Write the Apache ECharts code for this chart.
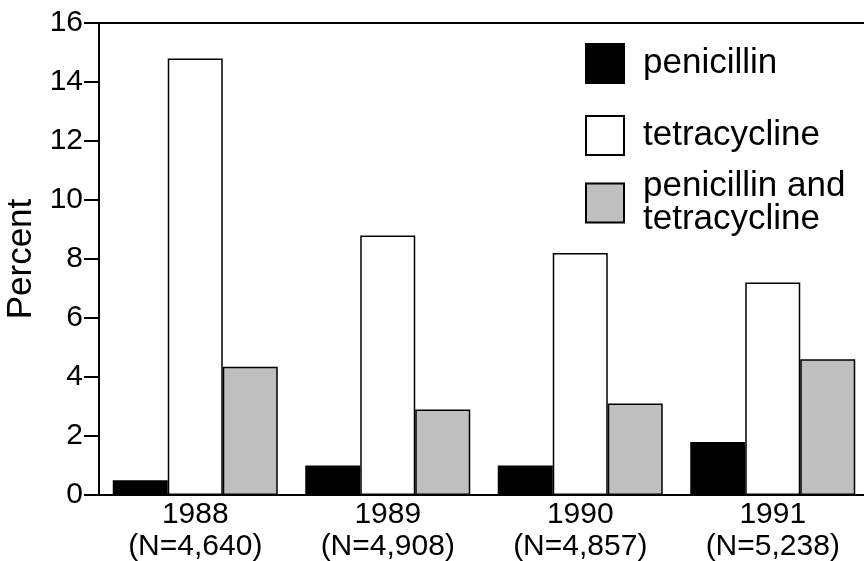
<!DOCTYPE html>
<html>
<head>
<meta charset="utf-8">
<script src="https://cdn.jsdelivr.net/npm/echarts@6/dist/echarts.min.js"></script>
<style>
  html, body { margin: 0; padding: 0; background: #fff; }
  #chart { width: 864px; height: 561px; }
</style>
</head>
<body>
<div id="chart"></div>
<script>
// data
const years = ['1988\n(N=4,640)', '1989\n(N=4,908)', '1990\n(N=4,857)', '1991\n(N=5,238)'];
const penicillin = [0.5, 1.0, 1.0, 1.8];
const tetracycline = [14.8, 8.8, 8.2, 7.2];
const both = [4.35, 2.9, 3.1, 4.6];
const seriesNames = ['penicillin', 'tetracycline', 'penicillin and\ntetracycline'];

const font = "'Liberation Sans', Arial, sans-serif";
const myChart = echarts.init(document.getElementById('chart'));

function legendAt(name, top) {
  return {
    data: [name],
    left: 585,
    top: top,
    padding: 0,
    icon: 'rect',
    itemWidth: 38,
    itemHeight: 39,
    selectedMode: false,
    itemStyle: { borderWidth: 2, borderColor: '#000' },
    textStyle: {
      fontFamily: font,
      fontSize: 35,
      lineHeight: 33,
      color: '#000',
      padding: [0, 0, 0, 14]
    }
  };
}

const option = {
  animation: false,
  backgroundColor: '#fff',
  legend: [
    legendAt(seriesNames[0], 43),
    legendAt(seriesNames[1], 115),
    legendAt(seriesNames[2], 169)
  ],
  grid: {
    left: 99,
    top: 23,
    width: 770,
    bottom: 66,
    show: true,
    borderColor: '#000',
    borderWidth: 2,
    containLabel: false,
    outerBoundsMode: 'none'
  },
  xAxis: {
    type: 'category',
    data: years,
    axisLine: { show: true, lineStyle: { color: '#000', width: 2 } },
    axisTick: { show: false },
    axisLabel: {
      color: '#000',
      fontFamily: font,
      fontSize: 30,
      lineHeight: 32,
      margin: 4
    }
  },
  yAxis: {
    type: 'value',
    min: 0,
    max: 16,
    interval: 2,
    name: 'Percent',
    nameLocation: 'middle',
    nameGap: 55,
    nameTextStyle: { color: '#000', fontFamily: font, fontSize: 35 },
    splitLine: { show: false },
    axisLine: { show: true, lineStyle: { color: '#000', width: 2 } },
    axisTick: { show: true, length: 15, lineStyle: { color: '#000', width: 2 } },
    axisLabel: { color: '#000', fontFamily: font, fontSize: 30, margin: 16 }
  },
  series: [
    {
      name: seriesNames[0],
      type: 'bar',
      barWidth: 55,
      barGap: 0,
      data: penicillin,
      itemStyle: { color: '#000', borderColor: '#000', borderWidth: 1.5 }
    },
    {
      name: seriesNames[1],
      type: 'bar',
      barWidth: 55,
      barGap: 0,
      data: tetracycline,
      itemStyle: { color: '#fff', borderColor: '#000', borderWidth: 1.5 }
    },
    {
      name: seriesNames[2],
      type: 'bar',
      barWidth: 55,
      barGap: 0,
      data: both,
      itemStyle: { color: '#bfbfbf', borderColor: '#000', borderWidth: 1.5 }
    }
  ]
};

myChart.setOption(option);
</script>
</body>
</html>
